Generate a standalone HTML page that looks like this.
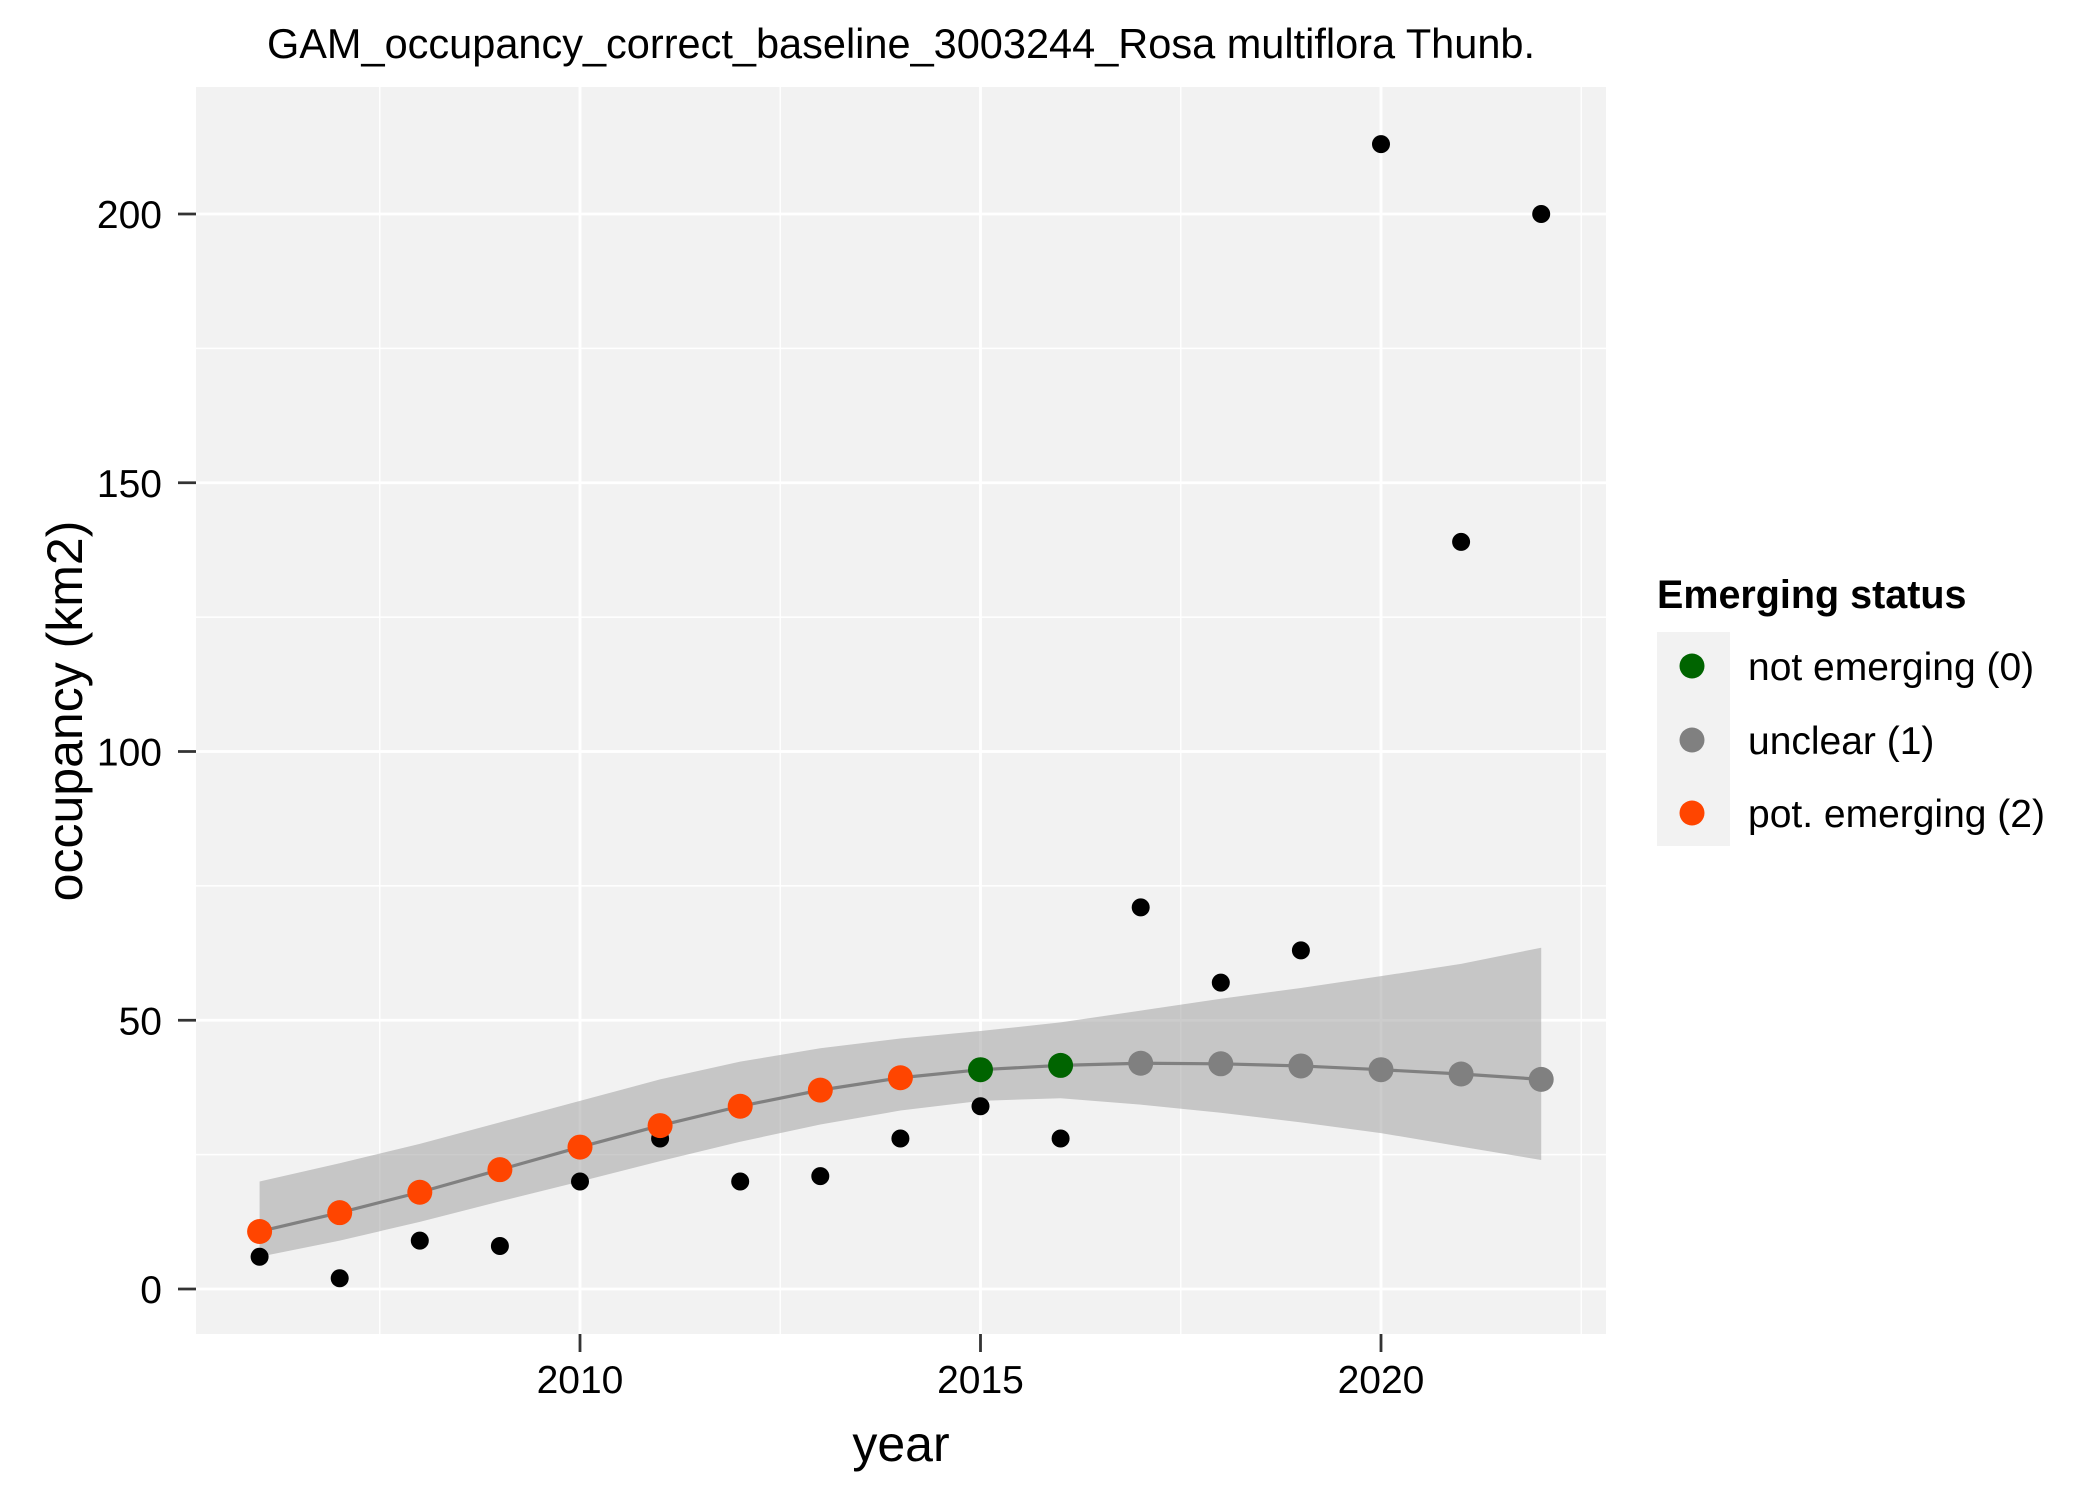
<!DOCTYPE html>
<html><head><meta charset="utf-8"><style>
body{margin:0;background:#fff}
svg text{font-family:"Liberation Sans",Arial,sans-serif}
</style></head><body>
<svg id="chart" width="2100" height="1499" viewBox="0 0 2100 1499" xmlns="http://www.w3.org/2000/svg">
<text x="901" y="58" font-size="41.5" text-anchor="middle">GAM_occupancy_correct_baseline_3003244_Rosa multiflora Thunb.</text>
<rect x="196" y="87" width="1410" height="1247" fill="#f2f2f2"/>
<g id="grid"></g>
<g id="band"></g>
<g id="fit"></g>
<g id="obs"></g>
<g id="stat"></g>
<g id="axes"></g>
<text x="901" y="1461" font-size="50" text-anchor="middle">year</text>
<text transform="translate(82,711) rotate(-90)" font-size="50" text-anchor="middle">occupancy (km2)</text>
<g>
<text x="1657" y="608" font-size="39.5" font-weight="bold">Emerging status</text>
<rect x="1657" y="632" width="73" height="214" fill="#f2f2f2"/>
<circle cx="1692" cy="666" r="12.5" fill="#006400"/>
<circle cx="1692" cy="740" r="12.5" fill="#808080"/>
<circle cx="1692" cy="813" r="12.5" fill="#ff4500"/>
<text x="1748" y="680" font-size="39">not emerging (0)</text>
<text x="1748" y="754" font-size="39">unclear (1)</text>
<text x="1748" y="827" font-size="39">pot. emerging (2)</text>
</g>
</svg>
<script>
const years=[2006,2007,2008,2009,2010,2011,2012,2013,2014,2015,2016,2017,2018,2019,2020,2021,2022];
const observed=[6,2,9,8,20,28,20,21,28,34,28,71,57,63,213,139,200];
const fitted=[10.7,14.2,18,22.2,26.4,30.4,34,37,39.3,40.8,41.6,42,41.9,41.5,40.8,40,39];
const upper=[20,23.4,27,31,35,39,42.3,44.8,46.6,48,49.6,51.8,54,56,58.2,60.5,63.5];
const lower=[6,9,12.5,16.3,20,23.8,27.4,30.6,33.2,35,35.5,34.3,32.8,31,29,26.5,24];
const status=[2,2,2,2,2,2,2,2,2,0,0,1,1,1,1,1,1];
const xTicks=[2010,2015,2020];
const yTicks=[0,50,100,150,200];
const colors={0:"#006400",1:"#808080",2:"#ff4500"};
const NS="http://www.w3.org/2000/svg";
const X=v=>580+(v-2010)*80.1;
const Y=v=>1289-v*5.375;
function mk(p,t,a){const e=document.createElementNS(NS,t);for(const k in a)e.setAttribute(k,a[k]);document.getElementById(p).appendChild(e);return e;}
[2007.5,2012.5,2017.5,2022.5].forEach(v=>{const e=mk('grid','line',{x1:X(v),x2:X(v),y1:87,y2:1334,stroke:'#fff','stroke-width':1.4});

});
[25,75,125,175].forEach(v=>{const e=mk('grid','line',{x1:196,x2:1606,y1:Y(v),y2:Y(v),stroke:'#fff','stroke-width':1.4});

});
xTicks.forEach(v=>{const e=mk('grid','line',{x1:X(v),x2:X(v),y1:87,y2:1334,stroke:'#fff','stroke-width':2.8});


const t=mk('axes','line',{x1:X(v),x2:X(v),y1:1334,y2:1352,stroke:'#333','stroke-width':2.8});


const l=mk('axes','text',{x:X(v),y:1393,'font-size':39,'text-anchor':'middle'});l.textContent=v;

});
yTicks.forEach(v=>{const e=mk('grid','line',{x1:196,x2:1606,y1:Y(v),y2:Y(v),stroke:'#fff','stroke-width':2.8});


const t=mk('axes','line',{x1:178,x2:196,y1:Y(v),y2:Y(v),stroke:'#333','stroke-width':2.8});


const l=mk('axes','text',{x:162,y:Y(v)+14,'font-size':39,'text-anchor':'end'});l.textContent=v;

});
let d='M'+years.map((y,i)=>X(y)+','+Y(upper[i])).join('L');
for(let i=years.length-1;i>=0;i--)d+='L'+X(years[i])+','+Y(lower[i]);
const b=mk('band','path',{d:d+'Z',fill:'#999','fill-opacity':0.5});


const f=mk('fit','path',{d:'M'+years.map((y,i)=>X(y)+','+Y(fitted[i])).join('L'),fill:'none',stroke:'#808080','stroke-width':3.2});


years.forEach((y,i)=>{const c=mk('obs','circle',{cx:X(y),cy:Y(observed[i]),r:9,fill:'#000'});


const s=mk('stat','circle',{cx:X(y),cy:Y(fitted[i]),r:12.5,fill:colors[status[i]]});

});
</script>
</body></html>
